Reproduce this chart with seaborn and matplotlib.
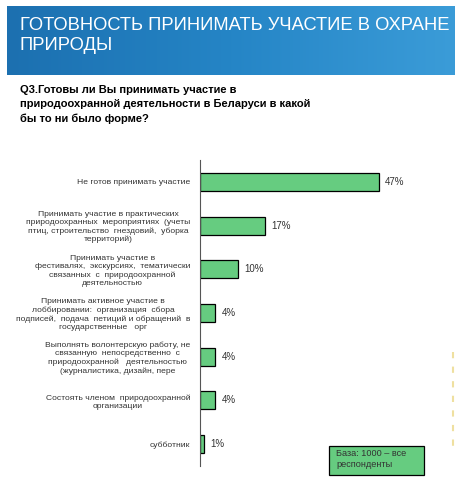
import numpy as np
import pandas as pd
import matplotlib
matplotlib.use("Agg")
import matplotlib.pyplot as plt
from matplotlib.patches import Rectangle
from matplotlib.lines import Line2D
from matplotlib.colors import LinearSegmentedColormap
import seaborn as sns

title = "ГОТОВНОСТЬ ПРИНИМАТЬ УЧАСТИЕ В ОХРАНЕ\nПРИРОДЫ"
question = ("Q3.Готовы ли Вы принимать участие в\n"
            "природоохранной деятельности в Беларуси в какой\n"
            "бы то ни было форме?")
categories = [
    "Не готов принимать участие",
    "Принимать участие в практических\nприродоохранных  мероприятиях  (учеты\nптиц, строительство  гнездовий,  уборка\nтерриторий)",
    "Принимать участие в\nфестивалях,  экскурсиях,  тематически\nсвязанных  с  природоохранной\nдеятельностью",
    "Принимать активное участие в\nлоббировании:  организация  сбора\nподписей,  подача  петиций и обращений  в\nгосударственные   орг",
    "Выполнять волонтерскую работу, не\nсвязанную  непосредственно  с\nприродоохранной   деятельностью\n(журналистика, дизайн, пере",
    "Состоять членом  природоохранной\nорганизации",
    "субботник",
]
values = [47, 17, 10, 4, 4, 4, 1]
value_labels = ["47%", "17%", "10%", "4%", "4%", "4%", "1%"]
base_note = "База: 1000 – все\nреспонденты"

sns.set_theme(style="white")
plt.rcParams['font.family'] = ['Liberation Sans', 'DejaVu Sans']

W, H = 456, 484
fig = plt.figure(figsize=(W / 100, H / 100), dpi=100)
fig.patch.set_facecolor("white")

def fx(px):
    return px / W

def fy(py):
    return 1 - py / H

# Banner
bax = fig.add_axes([fx(7), fy(75), fx(456 - 7), 69 / H])
cmap = LinearSegmentedColormap.from_list("banner", ["#1c70b0", "#2585c6", "#3b9cd8"])
grad = np.linspace(0, 1, 256)[None, :] * np.ones((20, 1))
bax.imshow(grad, aspect="auto", cmap=cmap, extent=[0, 1, 0, 1])
bax.set_axis_off()
fig.text(fx(20), fy(17), title, color="white", fontsize=13.2, va="top", ha="left",
         linespacing=1.22)

# Question
fig.text(fx(20), fy(85), question, color="black", fontsize=8, fontweight="bold",
         va="top", ha="left", linespacing=1.5)

# Main bar chart
df = pd.DataFrame({"cat": categories, "val": values})
ax = fig.add_axes([fx(200), fy(466), fx(240), 306 / H])
sns.barplot(data=df, y="cat", x="val", orient="h", color="#66cc80", width=0.41,
            edgecolor="black", linewidth=0.9, saturation=1, ax=ax)
ax.set_xlim(0, 240 / 3.81)
ax.set_ylim(len(categories) - 0.5, -0.5)
ax.set_xlabel("")
ax.set_ylabel("")
ax.set_xticks([])
for s in ["top", "right", "bottom"]:
    ax.spines[s].set_visible(False)
ax.spines["left"].set_color("#555555")
ax.spines["left"].set_linewidth(0.8)
ax.set_yticks(range(len(categories)))
ax.set_yticklabels(categories, fontsize=6.1, color="#333333", multialignment="center",
                   linespacing=1.2)
ax.tick_params(axis="y", which="major", length=0, pad=7)
ax.set_yticks(np.arange(-0.5, len(categories), 1.0), minor=True)
ax.tick_params(axis="y", which="minor", length=4, width=0.8, color="#555555", direction="out")
for i, (v, lab) in enumerate(zip(values, value_labels)):
    ax.text(v + 1.6, i, lab, va="center", ha="left", fontsize=7, color="#333333")

# Base note box
fig.patches.append(Rectangle((fx(329), fy(475)), fx(95), 29 / H, transform=fig.transFigure,
                             facecolor="#66cc80", edgecolor="black", linewidth=0.9))
fig.text(fx(336), fy(449), base_note, fontsize=6.6, va="top", ha="left", color="#333333",
         linespacing=1.3)

# faint dashes at right edge
fig.lines.append(Line2D([fx(453), fx(453)], [fy(352), fy(452)], transform=fig.transFigure,
                        color="#efe0a0", linewidth=1.5, linestyle=(0, (3, 4))))

fig.savefig("out.png", dpi=100, facecolor="white")
